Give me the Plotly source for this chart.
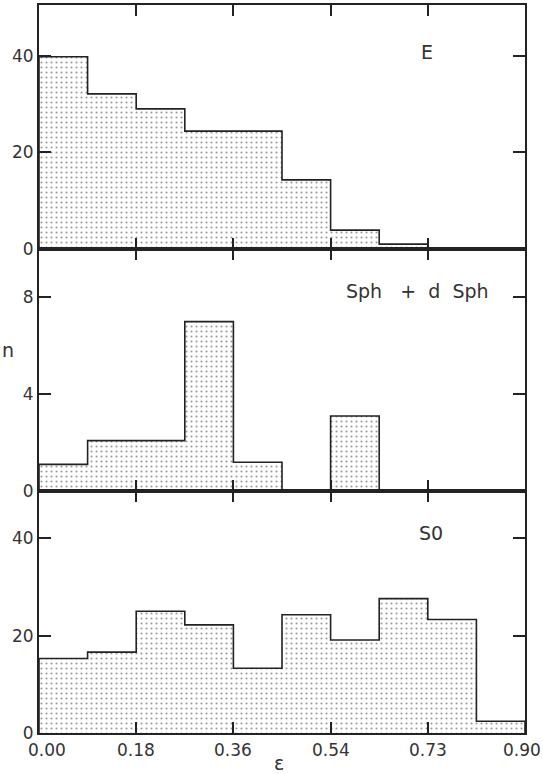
import plotly.graph_objects as go

# Data
bin_edges = [0.00, 0.09, 0.18, 0.27, 0.36, 0.45, 0.54, 0.63, 0.72, 0.81, 0.90]
E_counts = [39.8, 32.1, 29.0, 24.4, 24.4, 14.3, 3.9, 1.0, 0.0, 0.0]
Sph_counts = [1.1, 2.08, 2.08, 7.0, 1.19, 0.0, 3.1, 0.0, 0.0, 0.0]
S0_counts = [15.3, 16.6, 25.0, 22.2, 13.3, 24.3, 19.1, 27.6, 23.3, 2.4]
panel_labels = ["E", "Sph\u00a0\u00a0\u00a0+\u00a0\u00a0d\u00a0\u00a0Sph", "S0"]
x_tickvals = [0.00, 0.18, 0.36, 0.54, 0.72, 0.90]
x_ticktext = ["0.00", "0.18", "0.36", "0.54", "0.73", "0.90"]
y_ticks = [[0, 20, 40], [0, 4, 8], [0, 20, 40]]
y_ranges = [[0, 50.5], [0, 10.0], [0, 49.7]]

W, H = 543, 774
ml, mr, mt, mb = 39, 18, 5, 41
plot_h = H - mt - mb
panel_px = [244, 242, 242]

FONT = "DejaVu Sans"
INK = "#222222"
TXT = "#333333"


def step_outline(edges, vals):
    xs, ys = [edges[0]], [0]
    for i, v in enumerate(vals):
        xs += [edges[i], edges[i + 1]]
        ys += [v, v]
    xs.append(edges[-1])
    ys.append(0)
    return xs, ys


fig = go.Figure()
series = [E_counts, Sph_counts, S0_counts]
y_cursor = plot_h
domains = []
for ph in panel_px:
    domains.append([(y_cursor - ph) / plot_h, y_cursor / plot_h])
    y_cursor -= ph

for i, vals in enumerate(series):
    xs, ys = step_outline(bin_edges, vals)
    suffix = "" if i == 0 else str(i + 1)
    fig.add_trace(go.Scatter(
        x=xs, y=ys, mode="lines", fill="tozeroy",
        line=dict(color=INK, width=1.6),
        fillcolor="rgba(0,0,0,0)",
        fillpattern=dict(shape=".", fgcolor="#333333", bgcolor="white",
                         size=5, solidity=0.14),
        xaxis="x" + suffix, yaxis="y" + suffix,
        showlegend=False, hoverinfo="skip",
    ))

layout = dict(
    width=W, height=H,
    margin=dict(l=ml, r=mr, t=mt, b=mb, pad=0, autoexpand=False),
    plot_bgcolor="white", paper_bgcolor="white",
    font=dict(family=FONT, size=17, color=INK),
    showlegend=False,
)

for i in range(3):
    suffix = "" if i == 0 else str(i + 1)
    xa = dict(
        domain=[0, 1], range=[0, 0.90], anchor="y" + suffix,
        tickmode="array", tickvals=x_tickvals, ticktext=x_ticktext,
        showticklabels=False, automargin=False,
        ticks="inside", ticklen=11, tickwidth=1.5, tickcolor=INK,
        showline=True, linecolor=INK, linewidth=2, mirror="ticks",
        showgrid=False, zeroline=False,
    )
    ya = dict(
        domain=domains[i], range=y_ranges[i], anchor="x" + suffix,
        tickmode="array", tickvals=y_ticks[i], automargin=False,
        ticks="inside", ticklen=12, tickwidth=1.5, tickcolor=INK,
        showline=True, linecolor=INK, linewidth=2, mirror="ticks",
        showgrid=False, zeroline=False,
        tickfont=dict(family=FONT, size=17, color=TXT),
    )
    layout["xaxis" + suffix] = xa
    layout["yaxis" + suffix] = ya

fig.update_layout(**layout)

# x tick labels of the bottom panel (ends nudged inside the page as in the reference)
shifts = {0: 8, len(x_tickvals) - 1: -3}
for k, (tv, tt) in enumerate(zip(x_tickvals, x_ticktext)):
    fig.add_annotation(x=tv, y=0, xref="x3", yref="paper", text=tt,
                       showarrow=False, xanchor="center", yanchor="middle",
                       xshift=shifts.get(k, 0), yshift=-17,
                       font=dict(family=FONT, size=17, color=TXT))


def px_to_paper(xp, yp):
    return (xp - ml) / (W - ml - mr), (H - mb - yp) / plot_h


label_pos = [(427, 52), (417, 291), (431, 533)]
for text, (xp, yp) in zip(panel_labels, label_pos):
    xx, yy = px_to_paper(xp, yp)
    fig.add_annotation(x=xx, y=yy, xref="paper", yref="paper", text=text,
                       showarrow=False, xanchor="center", yanchor="middle",
                       font=dict(family=FONT, size=19, color=TXT))

# axis titles
xx, yy = px_to_paper(8, 350)
fig.add_annotation(x=xx, y=yy, xref="paper", yref="paper", text="n",
                   showarrow=False, xanchor="center", yanchor="middle",
                   font=dict(family=FONT, size=19, color=TXT))
xx, yy = px_to_paper(279, 763)
fig.add_annotation(x=xx, y=yy, xref="paper", yref="paper", text="ε",
                   showarrow=False, xanchor="center", yanchor="middle",
                   font=dict(family=FONT, size=19, color=TXT))

fig.write_html(
    "out.html",
    config={"displayModeBar": False},
    post_script="document.body.style.margin='0';document.body.style.overflow='hidden';",
)
